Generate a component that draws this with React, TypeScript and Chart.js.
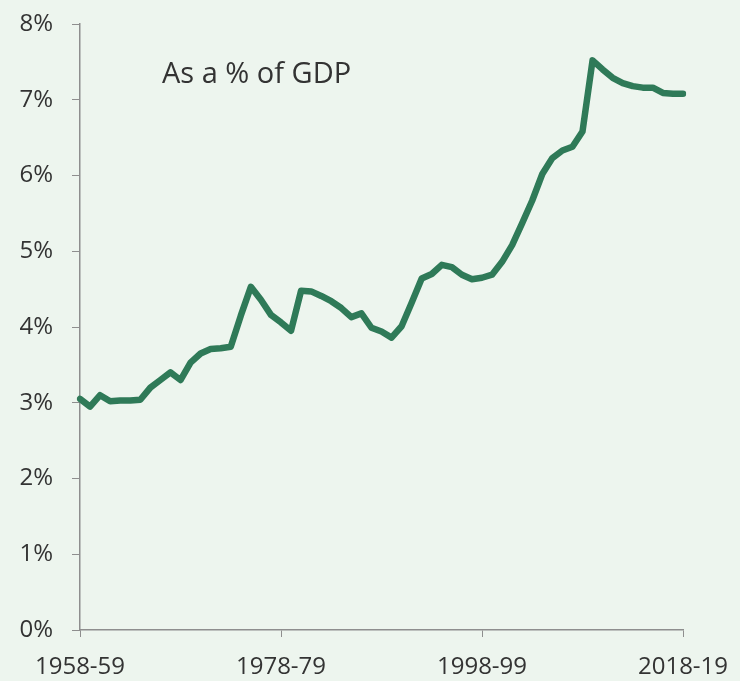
import React, { useEffect, useRef } from "react";
import { Chart, registerables } from "chart.js";

Chart.register(...registerables);

const startYear = 1958;
const years: string[] = [];
for (let y = startYear; y <= 2018; y++) {
  years.push(`${y}-${String((y + 1) % 100).padStart(2, "0")}`);
}

const shareOfGdp: number[] = [
  3.05, 2.95, 3.1, 3.02, 3.03, 3.03, 3.04, 3.2, 3.3, 3.4,
  3.3, 3.53, 3.65, 3.71, 3.72, 3.74, 4.15, 4.53, 4.36, 4.16,
  4.06, 3.95, 4.48, 4.47, 4.41, 4.34, 4.25, 4.13, 4.18, 3.99,
  3.94, 3.86, 4.01, 4.32, 4.64, 4.7, 4.82, 4.79, 4.69, 4.63,
  4.65, 4.69, 4.86, 5.08, 5.37, 5.67, 6.02, 6.23, 6.33, 6.38,
  6.58, 7.52, 7.4, 7.29, 7.22, 7.18, 7.16, 7.16, 7.09, 7.08, 7.08,
];

const yTicks: number[] = [0, 1, 2, 3, 4, 5, 6, 7, 8];
const titleText = "As a % of GDP";

const BG = "#edf5ee";
const LINE = "#2f7a58";
const AXIS = "#8e8e8e";
const TEXT = "#333333";
const FONT = "'Open Sans', 'Noto Sans', sans-serif";

export default function App() {
  const ref = useRef<HTMLCanvasElement | null>(null);

  useEffect(() => {
    if (!ref.current) return;
    const titlePlugin = {
      id: "innerTitle",
      afterDraw(chart: any) {
        const { ctx, chartArea } = chart;
        ctx.save();
        ctx.fillStyle = TEXT;
        ctx.font = `29px ${FONT}`;
        ctx.textAlign = "left";
        ctx.textBaseline = "alphabetic";
        ctx.fillText(titleText, chartArea.left + 82, chartArea.top + 59);
        ctx.restore();
      },
    };
    const chart = new Chart(ref.current, {
      type: "line",
      data: {
        labels: years,
        datasets: [
          {
            data: shareOfGdp,
            borderColor: LINE,
            borderWidth: 6.5,
            pointRadius: 0,
            tension: 0,
            borderJoinStyle: "round",
            borderCapStyle: "round",
            fill: false,
          },
        ],
      },
      options: {
        animation: false,
        responsive: false,
        maintainAspectRatio: false,
        layout: { padding: { top: 24, right: 57, left: 0, bottom: 0 } },
        plugins: {
          legend: { display: false },
          tooltip: { enabled: false },
          title: { display: false },
        },
        scales: {
          x: {
            type: "category",
            offset: false,
            afterBuildTicks: (scale: any) => {
              scale.ticks = scale.ticks.filter((t: any) => t.value % 20 === 0);
            },
            afterFit: (scale: any) => {
              scale.height = 51;
              scale.paddingLeft = 0;
              scale.paddingRight = 0;
            },
            grid: {
              display: true,
              drawOnChartArea: false,
              drawTicks: true,
              tickLength: 7,
              color: AXIS,
            },
            border: { display: true, color: AXIS, width: 1.5 },
            ticks: {
              autoSkip: false,
              maxRotation: 0,
              minRotation: 0,
              padding: 16,
              color: TEXT,
              font: { family: FONT, size: 24 },
            },
          },
          y: {
            min: 0,
            max: 8,
            afterBuildTicks: (scale: any) => {
              scale.ticks = yTicks.map((v) => ({ value: v }));
            },
            afterFit: (scale: any) => {
              scale.width = 80;
              scale.paddingTop = 0;
              scale.paddingBottom = 0;
            },
            grid: {
              display: true,
              drawOnChartArea: false,
              drawTicks: true,
              tickLength: 8,
              color: AXIS,
            },
            border: { display: true, color: AXIS, width: 1.5 },
            ticks: {
              padding: 19,
              color: TEXT,
              font: { family: FONT, size: 24 },
              callback: (v: any) => `${v}%`,
            },
          },
        },
      },
      plugins: [titlePlugin],
    } as any);
    return () => chart.destroy();
  }, []);

  return (
    <div
      style={{
        position: "absolute",
        left: 0,
        top: 0,
        width: 740,
        height: 681,
        background: BG,
      }}
    >
      <canvas ref={ref} width={740} height={681} style={{ display: "block" }} />
    </div>
  );
}
